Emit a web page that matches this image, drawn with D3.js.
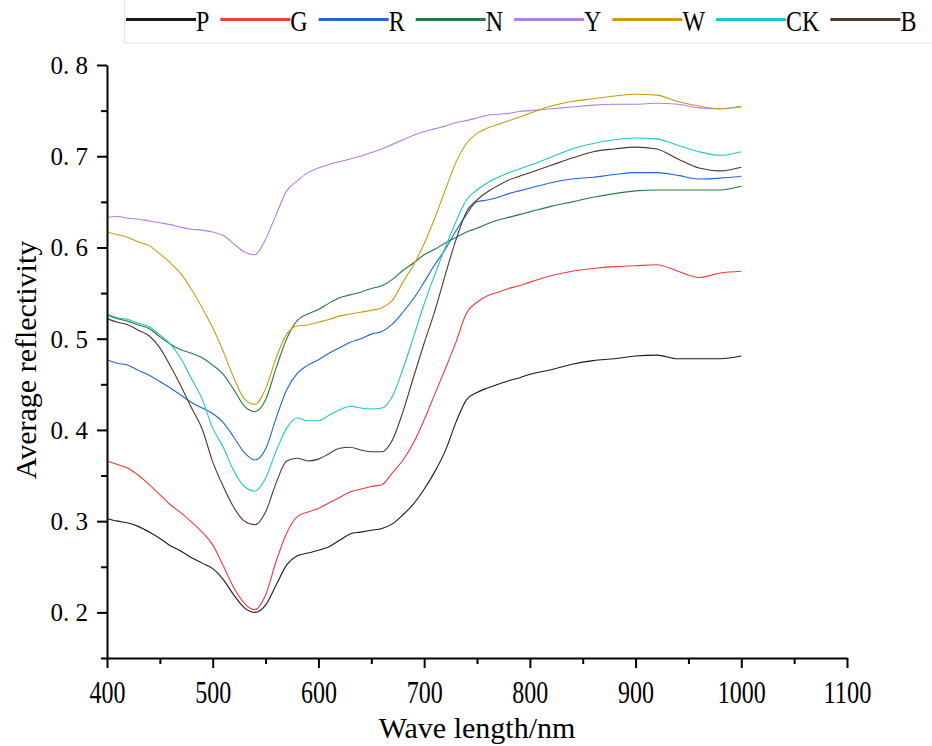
<!DOCTYPE html>
<html>
<head>
<meta charset="utf-8">
<script src="https://cdn.jsdelivr.net/npm/d3@7"></script>
<style>
  html, body { margin: 0; padding: 0; background: #fff; }
  svg { display: block; }
  text { font-family: "Liberation Serif", "Times New Roman", serif; fill: #000; }
</style>
</head>
<body>
<svg id="chart" width="932" height="746"></svg>
<script>
// wavelength samples (nm) shared by every spectrum
const WAVE = [400,410,420,430,440,450,460,470,480,490,500,510,520,530,540,550,560,570,580,590,
  600,610,620,630,640,650,660,670,680,690,700,710,720,730,740,750,760,770,780,790,800,
  820,840,860,880,900,920,940,960,980,1000];

// average reflectivity
const P = [0.303,0.300,0.298,0.294,0.288,0.281,0.273,0.267,0.260,0.254,0.248,0.236,0.219,0.205,0.200,0.208,0.230,0.252,0.262,0.265,
  0.268,0.272,0.279,0.286,0.288,0.290,0.292,0.297,0.307,0.319,0.335,0.354,0.377,0.408,0.433,0.441,0.446,0.450,0.454,0.457,0.461,
  0.466,0.472,0.476,0.478,0.481,0.482,0.478,0.478,0.478,0.481];
const G = [0.366,0.362,0.358,0.350,0.340,0.329,0.318,0.309,0.299,0.288,0.274,0.251,0.227,0.210,0.203,0.219,0.256,0.287,0.305,0.310,
  0.314,0.320,0.326,0.332,0.335,0.338,0.340,0.353,0.367,0.386,0.411,0.439,0.467,0.496,0.528,0.540,0.547,0.551,0.555,0.558,0.562,
  0.569,0.574,0.577,0.579,0.580,0.581,0.574,0.567,0.572,0.574];
const R = [0.477,0.473,0.471,0.465,0.460,0.453,0.446,0.438,0.430,0.424,0.418,0.408,0.392,0.375,0.367,0.379,0.413,0.444,0.462,0.471,
  0.477,0.484,0.490,0.496,0.500,0.505,0.508,0.516,0.529,0.544,0.562,0.581,0.598,0.618,0.636,0.650,0.652,0.655,0.659,0.662,0.665,
  0.671,0.675,0.677,0.680,0.682,0.682,0.679,0.675,0.676,0.678];
const N = [0.526,0.522,0.519,0.515,0.511,0.502,0.494,0.488,0.484,0.479,0.471,0.461,0.444,0.426,0.420,0.433,0.468,0.500,0.520,0.527,
  0.532,0.539,0.545,0.548,0.551,0.555,0.558,0.565,0.575,0.583,0.592,0.598,0.605,0.611,0.617,0.621,0.626,0.630,0.633,0.636,0.639,
  0.645,0.650,0.655,0.659,0.662,0.663,0.663,0.663,0.663,0.667];
const Y = [0.633,0.634,0.632,0.631,0.629,0.627,0.625,0.622,0.620,0.619,0.617,0.613,0.604,0.595,0.592,0.609,0.636,0.662,0.673,0.682,
  0.687,0.691,0.694,0.697,0.700,0.704,0.708,0.713,0.718,0.723,0.727,0.730,0.733,0.737,0.739,0.742,0.745,0.746,0.747,0.749,0.750,
  0.752,0.754,0.756,0.757,0.757,0.758,0.757,0.753,0.752,0.754];
const W = [0.617,0.614,0.611,0.606,0.602,0.593,0.583,0.571,0.554,0.534,0.512,0.486,0.457,0.434,0.428,0.445,0.479,0.505,0.514,0.515,
  0.518,0.521,0.525,0.527,0.529,0.531,0.534,0.542,0.562,0.581,0.604,0.632,0.663,0.693,0.714,0.725,0.731,0.735,0.739,0.743,0.747,
  0.755,0.760,0.763,0.766,0.768,0.767,0.760,0.755,0.752,0.755];
const CK = [0.527,0.523,0.521,0.517,0.513,0.504,0.494,0.478,0.456,0.434,0.402,0.381,0.355,0.338,0.333,0.347,0.377,0.402,0.413,0.410,
  0.410,0.416,0.422,0.426,0.424,0.423,0.424,0.437,0.467,0.502,0.538,0.570,0.600,0.628,0.652,0.663,0.671,0.677,0.682,0.686,0.690,
  0.699,0.708,0.714,0.718,0.720,0.719,0.712,0.705,0.701,0.705];
const B = [0.522,0.518,0.515,0.509,0.503,0.490,0.470,0.448,0.424,0.401,0.365,0.338,0.315,0.300,0.296,0.310,0.342,0.366,0.369,0.366,
  0.368,0.374,0.380,0.381,0.378,0.376,0.376,0.389,0.420,0.458,0.495,0.530,0.570,0.608,0.639,0.652,0.661,0.668,0.674,0.678,0.682,
  0.690,0.698,0.705,0.708,0.710,0.708,0.697,0.687,0.684,0.688];

const SERIES_NAMES = ["P", "G", "R", "N", "Y", "W", "CK", "B"];
const SERIES_VALUES = [P, G, R, N, Y, W, CK, B];
const COLORS = ["#1a1a1a", "#f03a3a", "#1f66d9", "#237a42", "#b47ee6", "#cc9a12", "#1fc6c6", "#4f3630"];

const X_TICKS = [400, 500, 600, 700, 800, 900, 1000, 1100];
const Y_TICKS = [0.2, 0.3, 0.4, 0.5, 0.6, 0.7, 0.8];

const svg = d3.select("#chart");
const x = d3.scaleLinear().domain([400, 1100]).range([107, 847]);
const y = d3.scaleLinear().domain([0.15, 0.8]).range([658, 65]);

// ---------- curves ----------
const line = d3.line().x((d, i) => x(WAVE[i])).y(d => y(d)).curve(d3.curveMonotoneX);
svg.append("g").selectAll("path").data(SERIES_VALUES).join("path")
  .attr("d", line).attr("fill", "none")
  .attr("stroke", (d, i) => COLORS[i]).attr("stroke-width", 1.1)
  .attr("stroke-linejoin", "round");

// ---------- axes ----------
const minorX = d3.range(450, 1100, 100);
const minorY = d3.range(0.15, 0.8, 0.1).map(v => +v.toFixed(2)).filter(v => v < 0.8);

const gx = svg.append("g").attr("transform", "translate(0,658)");
gx.call(d3.axisBottom(x).tickValues(minorX).tickSize(6).tickFormat("").tickSizeOuter(0));
gx.call(g => g.select(".domain").remove());
const gxMaj = svg.append("g").attr("transform", "translate(0,658)")
  .call(d3.axisBottom(x).tickValues(X_TICKS).tickSize(10).tickPadding(12).tickSizeOuter(0)
    .tickFormat(d3.format("d")));
gxMaj.selectAll(".tick text")
  .style("font-family", '"Liberation Serif", serif').style("font-size", "32px")
  .attr("textLength", d => String(d).length * 12).attr("lengthAdjust", "spacingAndGlyphs");

const gy = svg.append("g").attr("transform", "translate(107,0)");
gy.call(d3.axisLeft(y).tickValues(minorY).tickSize(6).tickFormat("").tickSizeOuter(0));
gy.call(g => g.select(".domain").remove());
const gyMaj = svg.append("g").attr("transform", "translate(107,0)")
  .call(d3.axisLeft(y).tickValues(Y_TICKS).tickSize(10).tickPadding(9).tickSizeOuter(0)
    .tickFormat(d => d3.format(".1f")(d).replace(".", ". ")));
gyMaj.selectAll(".tick text")
  .style("font-family", '"Liberation Serif", serif').style("font-size", "25px")
  .attr("dy", "0.34em").attr("xml:space", "preserve");

svg.selectAll(".domain, .tick line").attr("stroke", "#000").attr("stroke-width", 2);

// ---------- axis titles ----------
svg.append("text").attr("x", 477).attr("y", 738).attr("text-anchor", "middle")
  .style("font-size", "30px").text("Wave length/nm");
svg.append("text").attr("transform", "translate(36,360) rotate(-90)").attr("text-anchor", "middle")
  .style("font-size", "30px").text("Average reflectivity");

// ---------- legend ----------
svg.append("rect").attr("x", 124.5).attr("y", -2).attr("width", 830).attr("height", 45)
  .attr("fill", "none").attr("stroke", "#e2e2e2").attr("stroke-width", 1);
let lx = 126;
SERIES_NAMES.forEach((name, i) => {
  svg.append("line").attr("x1", lx).attr("x2", lx + 70).attr("y1", 19.5).attr("y2", 19.5)
    .attr("stroke", COLORS[i]).attr("stroke-width", 3);
  const t = svg.append("text").attr("x", lx + 70).attr("y", 31).style("font-size", "30px").text(name);
  const w = t.node().getComputedTextLength() * 0.8;
  t.attr("textLength", w).attr("lengthAdjust", "spacingAndGlyphs");
  lx += 70 + w + 11;
});
</script>
</body>
</html>
